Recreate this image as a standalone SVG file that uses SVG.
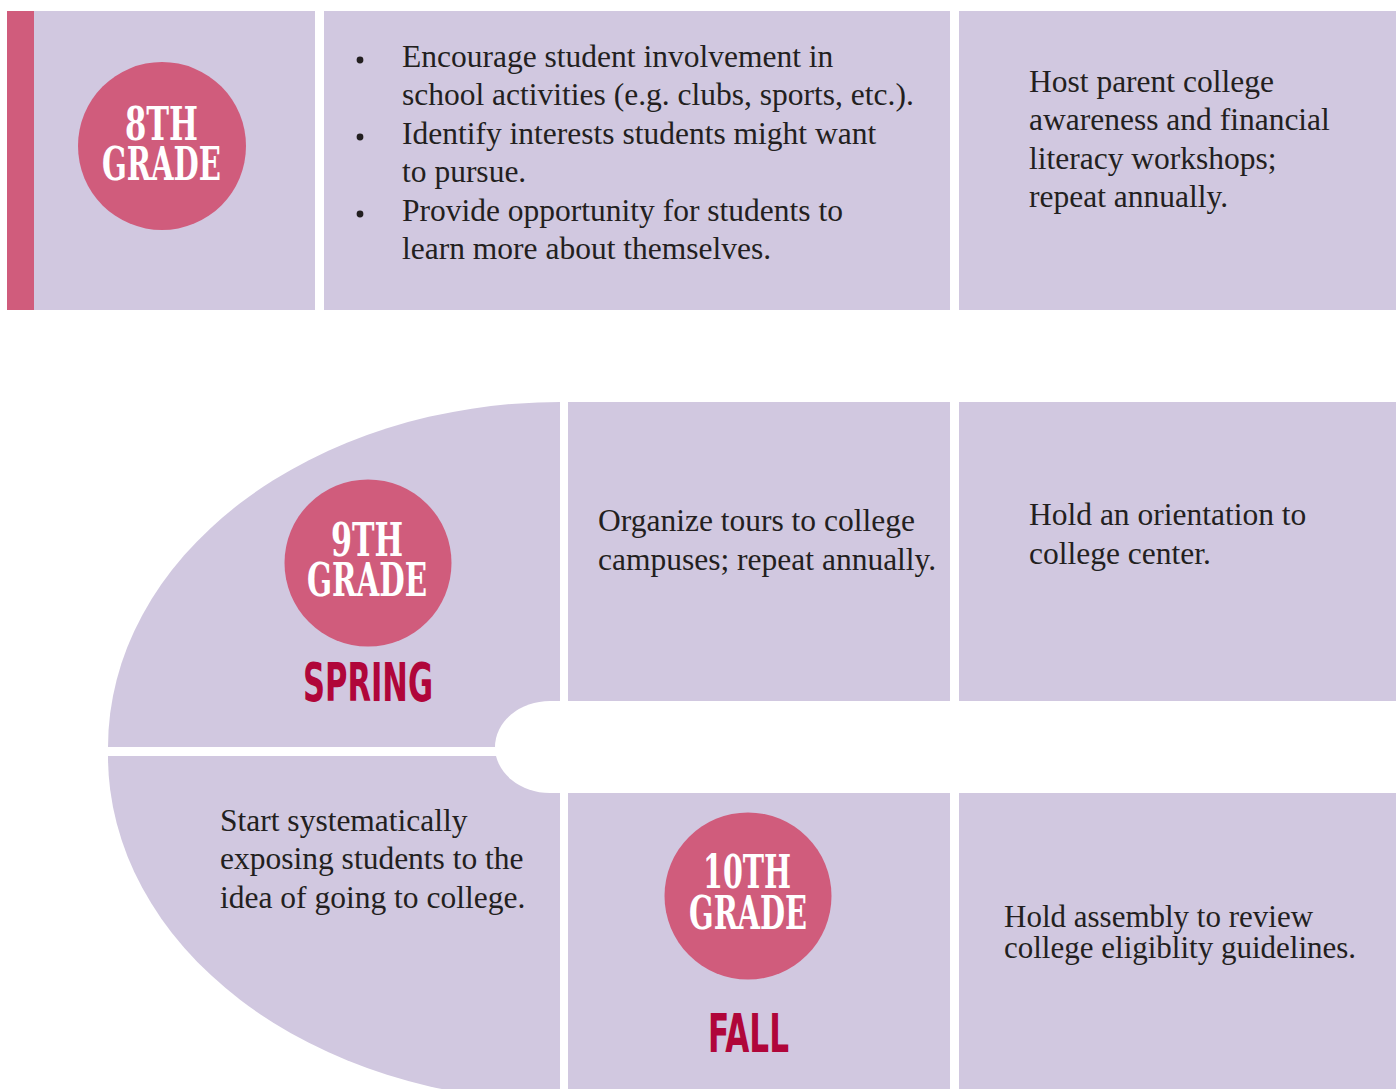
<svg xmlns="http://www.w3.org/2000/svg" width="1396" height="1089" viewBox="0 0 1396 1089">
<style>
.cell{fill:#d1c8e0}
.badge{fill:#d05c7c}
.body{font-family:"Liberation Serif","Times New Roman",serif;font-size:31.5px;fill:#231f20}
.grade{font-family:"DejaVu Serif Condensed","DejaVu Serif",serif;font-weight:bold;font-size:47px;fill:#ffffff;text-anchor:middle}
.season{font-family:"DejaVu Sans Condensed","DejaVu Sans",sans-serif;font-weight:bold;font-size:53px;fill:#b0063a;text-anchor:middle}
</style>
<rect width="1396" height="1089" fill="#ffffff"/>

<g id="row-8th">
  <rect x="7" y="11" width="27" height="299" class="badge"/>
  <rect x="34" y="11" width="281" height="299" class="cell"/>
  <rect x="324" y="11" width="626" height="299" class="cell"/>
  <rect x="959" y="11" width="437" height="299" class="cell"/>
</g>

<g id="node-8th-grade">
  <circle cx="162" cy="146" r="84" class="badge"/>
  <text class="grade"><tspan x="161.5" y="140" textLength="73" lengthAdjust="spacingAndGlyphs">8TH</tspan><tspan x="161.5" y="180" textLength="119" lengthAdjust="spacingAndGlyphs">GRADE</tspan></text>
</g>

<g id="node-8th-activities">
  <circle cx="360" cy="60" r="3.4" fill="#231f20"/>
  <circle cx="360" cy="137" r="3.4" fill="#231f20"/>
  <circle cx="360" cy="214" r="3.4" fill="#231f20"/>
  <text class="body" x="402" y="66.5">Encourage student involvement in</text>
  <text class="body" x="402" y="105">school activities (e.g. clubs, sports, etc.).</text>
  <text class="body" x="402" y="143.5">Identify interests students might want</text>
  <text class="body" x="402" y="182">to pursue.</text>
  <text class="body" x="402" y="220.5">Provide opportunity for students to</text>
  <text class="body" x="402" y="258.5">learn more about themselves.</text>
</g>

<g id="node-8th-parents">
  <text class="body" x="1029" y="91.5">Host parent college</text>
  <text class="body" x="1029" y="130">awareness and financial</text>
  <text class="body" x="1029" y="168.5">literacy workshops;</text>
  <text class="body" x="1029" y="207">repeat annually.</text>
</g>

<g id="node-9th-grade">
  <path class="cell" d="M560 402 L560 747 L108 747 A452 345 0 0 1 560 402 Z"/>
  <circle cx="368" cy="563" r="83.5" class="badge"/>
  <text class="grade"><tspan x="367" y="556" textLength="72" lengthAdjust="spacingAndGlyphs">9TH</tspan><tspan x="367" y="596" textLength="120" lengthAdjust="spacingAndGlyphs">GRADE</tspan></text>
  <text class="season" x="368" y="701" textLength="130" lengthAdjust="spacingAndGlyphs">SPRING</text>
</g>

<g id="node-9th-tours">
  <rect x="568" y="402" width="382" height="299" class="cell"/>
  <text class="body" x="598" y="531">Organize tours to college</text>
  <text class="body" x="598" y="569.5">campuses; repeat annually.</text>
</g>

<g id="node-9th-orientation">
  <rect x="959" y="402" width="437" height="299" class="cell"/>
  <text class="body" x="1029" y="525">Hold an orientation to</text>
  <text class="body" x="1029" y="564">college center.</text>
</g>

<g id="node-10th-exposure">
  <path class="cell" d="M108 756 L560 756 L560 1101 A452 345 0 0 1 108 756 Z"/>
  <text class="body" x="220" y="830.5">Start systematically</text>
  <text class="body" x="220" y="869">exposing students to the</text>
  <text class="body" x="220" y="907.5">idea of going to college.</text>
</g>

<g id="node-10th-grade">
  <rect x="568" y="793" width="382" height="296" class="cell"/>
  <circle cx="748" cy="896" r="83.5" class="badge"/>
  <text class="grade"><tspan x="747" y="888" textLength="88" lengthAdjust="spacingAndGlyphs">10TH</tspan><tspan x="748" y="929" textLength="118" lengthAdjust="spacingAndGlyphs">GRADE</tspan></text>
  <text class="season" x="748.5" y="1052" textLength="81" lengthAdjust="spacingAndGlyphs">FALL</text>
</g>

<g id="node-10th-assembly">
  <rect x="959" y="793" width="437" height="296" class="cell"/>
  <text class="body" x="1004" y="926.5" style="font-size:31px">Hold assembly to review</text>
  <text class="body" x="1004" y="957.5" style="font-size:31px">college eligiblity guidelines.</text>
</g>

<g id="connectors">
  <path fill="#ffffff" d="M568 701 H550 A55 46 0 0 0 495 747 A55 46 0 0 0 550 793 H568 Z"/>
</g>
</svg>
